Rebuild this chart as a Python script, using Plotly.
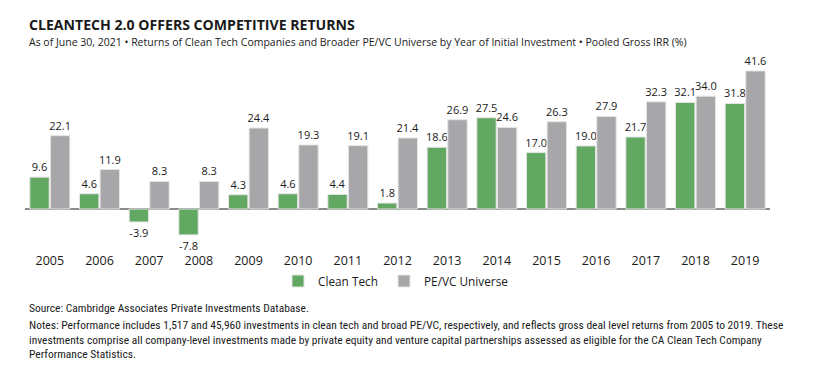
import plotly.graph_objects as go

years = ["2005", "2006", "2007", "2008", "2009", "2010", "2011", "2012",
         "2013", "2014", "2015", "2016", "2017", "2018", "2019"]
clean_tech = [9.6, 4.6, -3.9, -7.8, 4.3, 4.6, 4.4, 1.8, 18.6, 27.5, 17.0, 19.0, 21.7, 32.1, 31.8]
pevc = [22.1, 11.9, 8.3, 8.3, 24.4, 19.3, 19.1, 21.4, 26.9, 24.6, 26.3, 27.9, 32.3, 34.0, 41.6]

GREEN = "#62a862"
GREY = "#a7a7aa"
TXT = "#1a1a1a"

W, H = 814, 366
L, R, T, B = 25, 44, 62, 116
plot_h = H - T - B


def py(pix):
    return (H - B - pix) / plot_h


def px(pix):
    return (pix - L) / (W - L - R)


fig = go.Figure()
for name, vals, col, lg in [("Clean Tech", clean_tech, GREEN, "legend"),
                            ("PE/VC Universe", pevc, GREY, "legend2")]:
    fig.add_trace(go.Bar(
        x=years, y=vals, name=name, legend=lg,
        marker=dict(color=col, line=dict(color="#e4e4e4", width=1)),
        texttemplate="%{y:.1f}", textposition="outside", constraintext="none",
        textfont=dict(size=11, color=TXT, family="Open Sans, sans-serif"),
        cliponaxis=False,
    ))

leg_common = dict(orientation="h", xanchor="left", yanchor="middle",
                  font=dict(size=11.8, color=TXT), itemwidth=30, bgcolor="rgba(0,0,0,0)")
fig.update_layout(
    width=W, height=H,
    margin=dict(l=L, r=R, t=T, b=B),
    paper_bgcolor="white", plot_bgcolor="white",
    barmode="group", bargap=0.17, bargroupgap=0.06,
    font=dict(family="Open Sans, sans-serif", color=TXT, size=12),
    showlegend=True,
    legend=dict(x=px(278), y=py(281), **leg_common),
    legend2=dict(x=px(384), y=py(281), **leg_common),
)
fig.update_xaxes(showgrid=False, showline=False, ticks="", tickfont=dict(size=12.5, color=TXT),
                 range=[-0.5, 14.5], ticklabelstandoff=1)
fig.update_yaxes(range=[-12.35, 44.3], showgrid=False, showticklabels=False, zeroline=True,
                 zerolinecolor="#8c8c8c", zerolinewidth=1.5, showline=False)

NARROW = "Liberation Sans Narrow, Roboto Condensed, sans-serif"
annos = [
    dict(text="<b>CLEANTECH 2.0 OFFERS COMPETITIVE RETURNS</b>", y=py(24), size=14.1,
         fam="Open Sans, sans-serif"),
    dict(text="As of June 30, 2021 \u2022 Returns of Clean Tech Companies and Broader PE/VC Universe by Year of Initial Investment \u2022 Pooled Gross IRR (%)",
         y=py(42), size=10.5, fam="Open Sans, sans-serif"),
    dict(text="Source: Cambridge Associates Private Investments Database.", y=py(308), size=11.5,
         fam=NARROW),
    dict(text="Notes: Performance includes 1,517 and 45,960 investments in clean tech and broad PE/VC, respectively, and reflects gross deal level returns from 2005 to 2019. These",
         y=py(325), size=11.5, fam=NARROW),
    dict(text="investments comprise all company-level investments made by private equity and venture capital partnerships assessed as eligible for the CA Clean Tech Company",
         y=py(339.5), size=11.5, fam=NARROW),
    dict(text="Performance Statistics.", y=py(354), size=11.5, fam=NARROW),
]
for a in annos:
    fig.add_annotation(text=a["text"], xref="paper", yref="paper", x=px(27), y=a["y"],
                       xanchor="left", yanchor="middle", showarrow=False,
                       font=dict(size=a["size"], family=a["fam"], color=TXT))

fig.write_html("out.html", config={"displayModeBar": False},
               post_script="document.body.style.margin='0';")
